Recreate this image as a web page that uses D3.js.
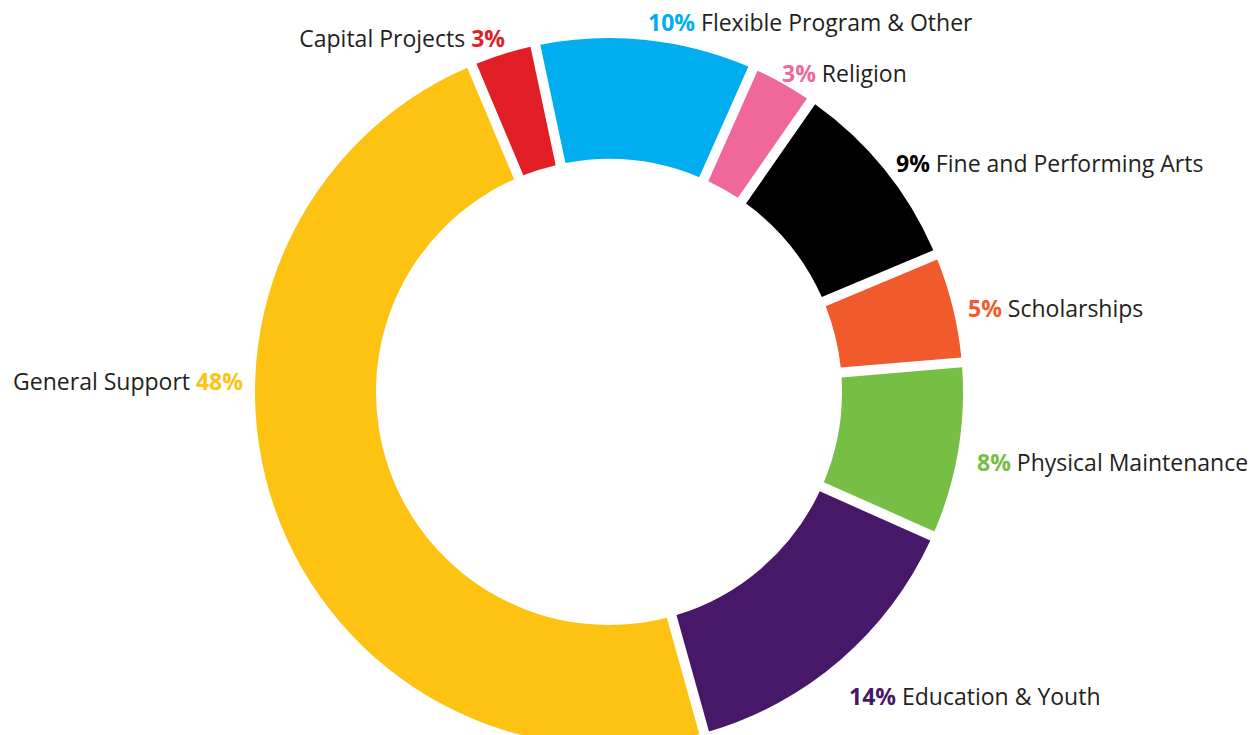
<!DOCTYPE html>
<html lang="en">
<head>
    <meta charset="utf-8">
    <title>Donut</title>
    <script src="https://cdn.jsdelivr.net/npm/d3@7"></script>
    <style>
        body { margin: 0; background: #fff; }
        svg text { font-family: "Open Sans", Lato, sans-serif; font-size: 23px; }
        .pct { font-weight: 700; }
        .name { fill: #231f20; font-weight: 400; }
    </style>
</head>
<body>
    <div id="chart"></div>
    <script>
        // data, clockwise from the blue slice
        var categories = ["Flexible Program & Other", "Religion", "Fine and Performing Arts", "Scholarships",
                          "Physical Maintenance", "Education & Youth", "General Support", "Capital Projects"];
        var values = [10, 3, 9, 5, 8, 14, 48, 3];
        var colors = ["#00aeef", "#f0679a", "#000000", "#f15a2c", "#77bf44", "#481868", "#fec212", "#e11e26"];

        // label anchor points (x, y baseline, anchor, percent first?)
        var labelPos = [
            [648, 31, "start", true],
            [782, 82, "start", true],
            [896, 172, "start", true],
            [968, 317, "start", true],
            [977, 471, "start", true],
            [849, 705, "start", true],
            [243, 390, "end", false],
            [505, 47, "end", false]
        ];

        var W = 1249, H = 735;
        var cx = 609, cy = 392;
        var outerR = 354, innerR = 233;
        var startAngle = -12 * Math.PI / 180;

        var svg = d3.select("#chart").append("svg")
            .attr("width", W)
            .attr("height", H);

        var pie = d3.pie()
            .sort(null)
            .value(function(d) { return d; })
            .startAngle(startAngle)
            .endAngle(startAngle + 2 * Math.PI);

        var arc = d3.arc()
            .innerRadius(innerR)
            .outerRadius(outerR)
            .padRadius(outerR)
            .padAngle(10 / outerR);

        var g = svg.append("g")
            .attr("transform", "translate(" + cx + "," + cy + ")");

        g.selectAll("path")
            .data(pie(values))
            .enter().append("path")
            .attr("d", arc)
            .attr("fill", function(d, i) { return colors[i]; });

        // labels
        var labels = svg.append("g");
        categories.forEach(function(c, i) {
            var p = labelPos[i];
            var t = labels.append("text")
                .attr("x", p[0])
                .attr("y", p[1])
                .attr("text-anchor", p[2]);
            if (p[3]) {
                t.append("tspan").attr("class", "pct").attr("fill", colors[i]).text(values[i] + "%");
                t.append("tspan").attr("class", "name").text(" " + c);
            } else {
                t.append("tspan").attr("class", "name").text(c + " ");
                t.append("tspan").attr("class", "pct").attr("fill", colors[i]).text(values[i] + "%");
            }
        });
    </script>
</body>
</html>
